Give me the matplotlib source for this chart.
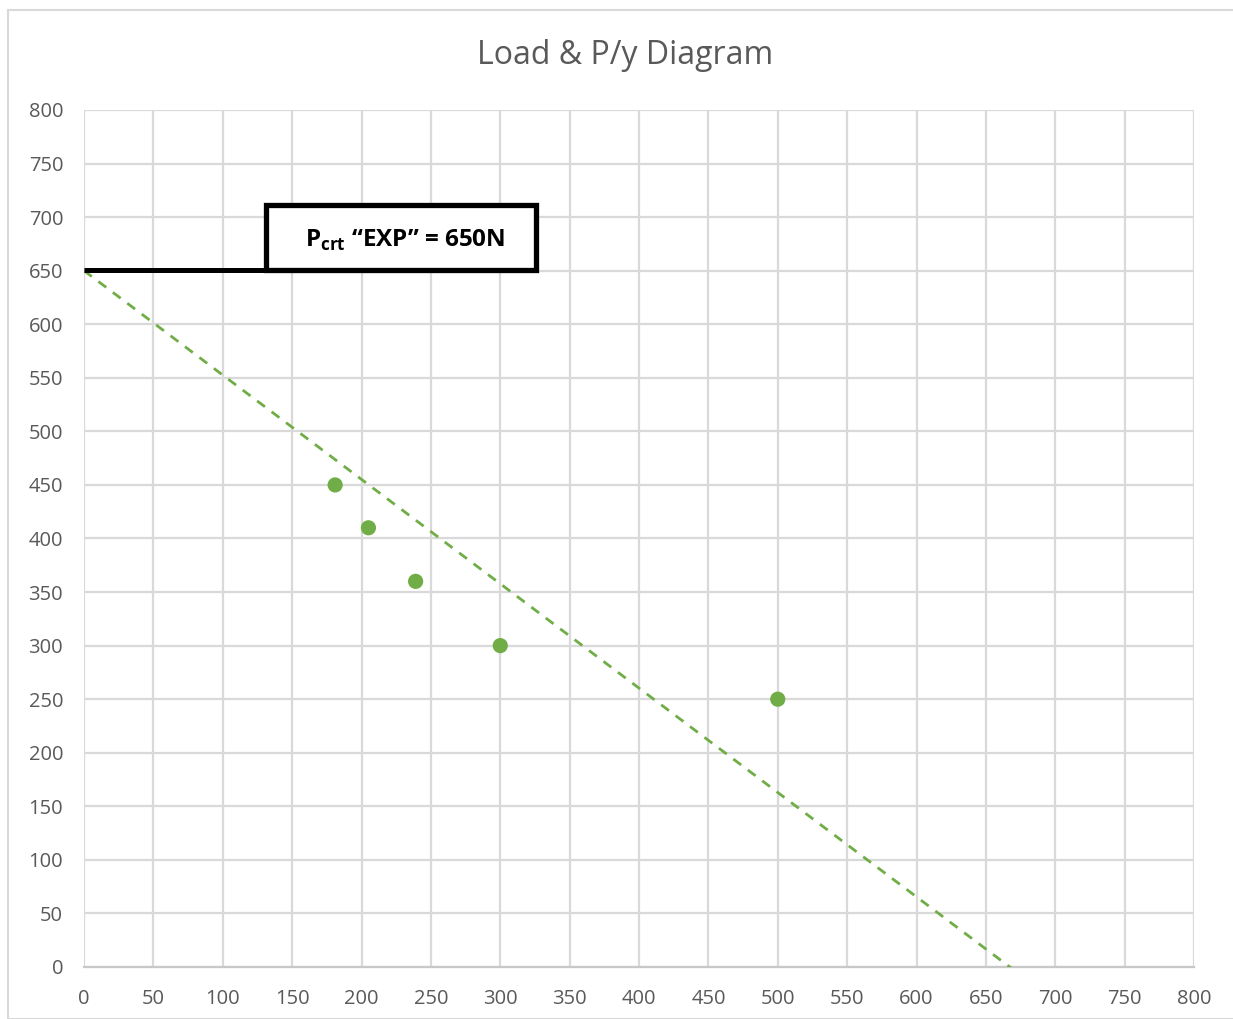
import numpy as np
import matplotlib
matplotlib.use("Agg")
import matplotlib.pyplot as plt
from matplotlib.patches import Rectangle

# Data
deflection = [181, 205, 239, 300, 500]
load = [450, 410, 360, 300, 250]
p_crt = 650
x_ticks = list(range(0, 801, 50))
y_ticks = list(range(0, 801, 50))

plt.rcParams['font.family'] = ['Open Sans', 'DejaVu Sans']
plt.rcParams['mathtext.fontset'] = 'custom'
plt.rcParams['mathtext.rm'] = 'Open Sans:bold'
plt.rcParams['mathtext.bf'] = 'Open Sans:bold'

fig = plt.figure(figsize=(12.33, 10.19), dpi=100)
# chart border
fig.patches.append(Rectangle((8/1233, 0), 1.2, 1 - 10/1019, transform=fig.transFigure,
                             fill=False, edgecolor='#d9d9d9', linewidth=1.5))
ax = fig.add_axes([84/1233, 52/1019, 1110/1233, 857/1019])

ax.set_xlim(0, 800)
ax.set_ylim(0, 800)
ax.set_xticks(x_ticks)
ax.set_yticks(y_ticks)
ax.grid(True, color='#d9d9d9', linewidth=1.6)
ax.set_axisbelow(True)
for s in ['top', 'right', 'left']:
    ax.spines[s].set_visible(False)
ax.spines['bottom'].set_color('#c8c8c8')
ax.spines['bottom'].set_linewidth(1.6)
ax.tick_params(length=0, labelsize=14.5, colors='#595959')
ax.tick_params(axis='x', pad=16)
ax.tick_params(axis='y', pad=15)

# trendline with intercept fixed at P_crt
x = np.array(deflection, float)
y = np.array(load, float)
slope = np.sum(x * (y - p_crt)) / np.sum(x * x)
xt = np.array([0, 680])
ax.plot(xt, p_crt + slope * xt, linestyle=(0, (3.5, 3)), color='#70ad47', linewidth=2.0, zorder=3)

ax.scatter(deflection, load, s=120, color='#70ad47', zorder=4, edgecolors='none')

# annotation line and box
ax.plot([0, 131], [651, 651], color='black', linewidth=3.6, zorder=5, solid_capstyle='butt')
ax.add_patch(Rectangle((131, 651), 195, 60, fill=True, facecolor='white', edgecolor='black',
                       linewidth=3.8, zorder=5))
ax.text(159, 678, r"$\mathrm{P}_{\mathrm{crt}}$" + " \u201cEXP\u201d = 650N", fontsize=17.5,
        fontweight='bold', color='black', va='center', ha='left', zorder=6)

fig.text(625/1233, 1 - 56/1019, "Load & P/y Diagram", ha='center', va='center',
         fontsize=23, color='#595959')

fig.savefig("out.png", dpi=100)
